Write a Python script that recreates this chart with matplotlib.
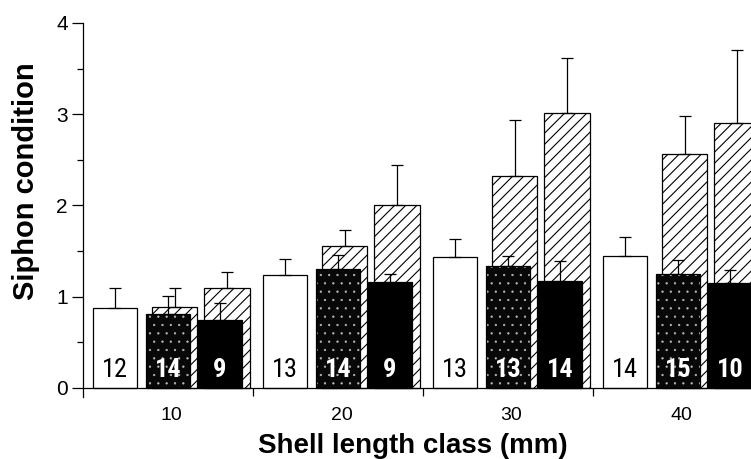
import numpy as np
import matplotlib.pyplot as plt
from matplotlib import font_manager
from matplotlib.ticker import MultipleLocator, FixedLocator

# shell length classes (mm)
classes = ["10", "20", "30", "40"]

# open bars
white_mean = [0.88, 1.24, 1.44, 1.45]
white_err = [0.22, 0.17, 0.19, 0.20]
white_n = [12, 13, 13, 14]

# stippled bars and the hatched bars standing behind them
stip_mean = [0.81, 1.30, 1.34, 1.25]
stip_err = [0.20, 0.16, 0.11, 0.15]
stip_n = [14, 14, 13, 15]
hatch1_mean = [0.89, 1.56, 2.32, 2.56]
hatch1_err = [0.21, 0.17, 0.62, 0.42]

# solid black bars and the hatched bars behind them
black_mean = [0.74, 1.16, 1.17, 1.15]
black_err = [0.19, 0.09, 0.22, 0.14]
black_n = [9, 9, 14, 10]
hatch2_mean = [1.10, 2.01, 3.01, 2.90]
hatch2_err = [0.17, 0.43, 0.61, 0.80]

plt.rcParams['font.family'] = ['Liberation Sans', 'DejaVu Sans']
plt.rcParams['hatch.linewidth'] = 0.8

# pick a narrow face for the counts if one is installed
names = set(f.name for f in font_manager.fontManager.ttflist)
narrow = [n for n in ['Liberation Sans Narrow', 'DejaVu Sans Condensed', 'Roboto Condensed'] if n in names]

fig = plt.figure(figsize=(7.51, 4.59), dpi=100)
ax = fig.add_axes([83 / 751, 62 / 459, 1 - 83 / 751, 374 / 459])

x = np.arange(len(classes))
w = 0.26
ekw = dict(ecolor='black', elinewidth=0.9, capsize=4.5, capthick=0.9)

# hatched bars go first so the dark bars sit in front
ax.bar(x + 0.041, hatch1_mean, w + 0.005, facecolor='white', edgecolor='black',
       hatch='///', linewidth=0.9, zorder=1)
ax.bar(x + 0.347, hatch2_mean, w + 0.005, facecolor='white', edgecolor='black',
       hatch='///', linewidth=0.9, zorder=1)
ax.errorbar(x + 0.041, hatch1_mean, yerr=[np.zeros(4), hatch1_err], fmt='none', zorder=1.5, **ekw)
ax.errorbar(x + 0.347, hatch2_mean, yerr=[np.zeros(4), hatch2_err], fmt='none', zorder=1.5, **ekw)

ax.bar(x - 0.312, white_mean, w, facecolor='white', edgecolor='black', linewidth=0.9, zorder=2)
stip = ax.bar(x, stip_mean, w, facecolor='#080808', edgecolor='#bdbdbd', hatch='..',
              linewidth=0, zorder=2)
for p in stip:
    p.set_hatch_linewidth(0.4)
ax.bar(x, stip_mean, w, facecolor='none', edgecolor='black', linewidth=0.9, zorder=2.1)
ax.bar(x + 0.306, black_mean, w, facecolor='black', edgecolor='black', linewidth=0.9, zorder=2)

ax.errorbar(x - 0.312, white_mean, yerr=[np.zeros(4), white_err], fmt='none', zorder=3, **ekw)
ax.errorbar(x, stip_mean, yerr=[np.zeros(4), stip_err], fmt='none', zorder=3, **ekw)
ax.errorbar(x + 0.306, black_mean, yerr=[np.zeros(4), black_err], fmt='none', zorder=3, **ekw)

# sample sizes at the foot of each bar
nkw = dict(ha='center', va='center', fontsize=19, zorder=4,
           family=narrow + ['DejaVu Sans'], fontstretch='condensed')
for i in range(len(classes)):
    ax.text(x[i] - 0.312, 0.2, str(white_n[i]), color='black', **nkw)
    ax.text(x[i], 0.2, str(stip_n[i]), color='white', fontweight='bold', **nkw)
    ax.text(x[i] + 0.306, 0.2, str(black_n[i]), color='white', fontweight='bold', **nkw)

ax.set_xlim(-0.5, -0.5 + 668 / 170)
ax.set_ylim(-0.1, 4.0)

for s in ['top', 'right']:
    ax.spines[s].set_visible(False)
ax.spines['bottom'].set_position(('data', 0))
ax.spines['left'].set_bounds(-0.1, 4.0)
ax.spines['left'].set_linewidth(0.9)
ax.spines['bottom'].set_linewidth(0.9)

ax.set_yticks([0, 1, 2, 3, 4])
ax.yaxis.set_minor_locator(MultipleLocator(0.5))
ax.tick_params(axis='y', which='major', length=8, width=0.9, labelsize=15, pad=3)
ax.tick_params(axis='y', which='minor', length=4, width=0.9)

ax.set_xticks(x + 0.02)
ax.set_xticklabels(classes)
ax.xaxis.set_minor_locator(FixedLocator([0.5, 1.5, 2.5]))
ax.tick_params(axis='x', which='major', length=0, labelsize=14, pad=14)
ax.tick_params(axis='x', which='minor', length=6, width=0.9)

fig.text(413 / 751, 6 / 459, "Shell length class (mm)", ha='center', va='baseline',
         fontsize=20, fontweight='bold')
fig.text(26 / 751, 1 - 181 / 459, "Siphon condition", ha='center', va='center',
         rotation=90, fontsize=21, fontweight='bold')

fig.savefig('out.png', dpi=100)
